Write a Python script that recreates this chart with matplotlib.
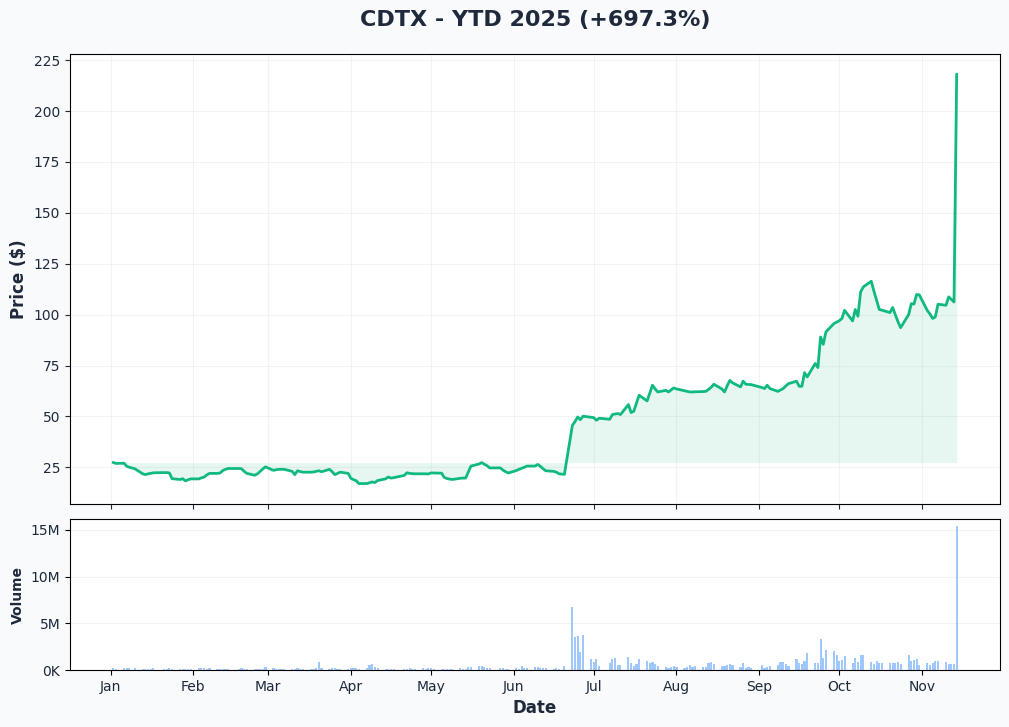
"""CDTX year-to-date price and volume chart."""
import matplotlib
matplotlib.use("Agg")
import matplotlib.pyplot as plt
import matplotlib.dates as mdates
from matplotlib.ticker import MultipleLocator, FuncFormatter
import pandas as pd

TICKER = "CDTX"
HOLIDAYS = ["2025-01-09", "2025-01-20", "2025-02-17", "2025-04-18", "2025-05-26",
            "2025-06-19", "2025-07-04", "2025-09-01"]

# closing prices, one per trading day (Jan 2 .. Nov 14)
PRICE = [
    # Jan
    27.34, 26.9, 27.0, 25.5, 25.0, 24.3, 21.8, 21.4, 21.8, 22.0, 22.3, 22.4, 22.4, 22.2,
    19.4, 19.0, 19.4, 18.3, 18.9, 19.3,
    # Feb
    19.3, 19.8, 20.2, 21.2, 22.0, 22.0, 22.2, 23.4, 24.0, 24.4, 24.4, 24.3, 23.0, 22.0,
    21.1, 21.8, 23.0, 24.2, 25.2,
    # Mar
    23.5, 23.8, 24.0, 24.0, 24.0, 23.0, 21.4, 23.3, 22.9, 22.6, 22.6, 22.7, 23.0, 23.3,
    22.8, 24.0, 22.8, 21.4, 22.0, 22.6, 22.0,
    # Apr
    19.6, 18.9, 18.4, 17.0, 17.0, 17.4, 17.8, 17.5, 18.5, 19.3, 20.2, 19.7, 19.9, 21.0,
    22.3, 22.0, 21.9, 21.8, 21.8, 21.8, 21.7,
    # May
    22.2, 22.2, 22.1, 20.0, 19.5, 19.2, 19.0, 19.6, 19.7, 19.7, 22.6, 25.6, 26.6, 27.3,
    26.5, 25.8, 24.7, 24.7, 23.6, 22.8, 22.2,
    # Jun
    23.4, 24.0, 24.5, 25.0, 25.6, 25.6, 26.4, 25.5, 24.3, 23.3, 23.0, 22.6, 21.8, 21.5,
    45.6, 47.5, 49.7, 48.4, 50.1, 49.6,
    # Jul
    49.4, 48.1, 49.1, 48.6, 50.9, 51.2, 51.4, 50.9, 55.8, 51.9, 52.5, 56.5, 60.4, 57.6,
    61.5, 65.3, 63.5, 62.0, 62.8, 62.0, 63.0, 64.0,
    # Aug
    63.5, 62.6, 62.3, 62.0, 62.0, 62.1, 62.2, 62.3, 63.2, 64.3, 65.8, 63.5, 62.0, 65.0,
    67.7, 66.5, 64.5, 67.3, 65.8, 65.7, 65.6,
    # Sep
    64.2, 63.7, 65.3, 63.7, 62.3, 63.0, 63.7, 65.0, 66.1, 67.3, 64.8, 64.8, 71.5, 69.4,
    76.0, 74.0, 89.0, 85.4, 91.5, 95.6, 96.3,
    # Oct
    97.0, 98.1, 102.1, 96.9, 102.5, 99.2, 111.1, 113.6, 116.4, 111.5, 107.0, 102.5, 102.2,
    101.0, 103.5, 100.0, 96.5, 93.6, 100.0, 105.4, 105.2, 109.9, 109.7,
    # Nov
    102.0, 100.3, 98.1, 98.9, 105.1, 104.6, 108.7, 107.5, 106.2, 217.98,
]

# daily volume, millions of shares
VOLUME_M = [
    # Jan
    0.20, 0.10, 0.20, 0.20, 0.20, 0.20, 0.13, 0.13, 0.13, 0.13, 0.22, 0.13, 0.13, 0.25,
    0.13, 0.13, 0.13, 0.13, 0.13, 0.13,
    # Feb
    0.22, 0.22, 0.22, 0.13, 0.22, 0.13, 0.13, 0.13, 0.13, 0.13, 0.10, 0.22, 0.13, 0.13,
    0.13, 0.13, 0.13, 0.13, 0.32,
    # Mar
    0.20, 0.13, 0.13, 0.13, 0.13, 0.13, 0.13, 0.25, 0.13, 0.13, 0.13, 0.13, 0.25, 0.86,
    0.20, 0.10, 0.25, 0.25, 0.13, 0.10, 0.10,
    # Apr
    0.25, 0.25, 0.25, 0.10, 0.25, 0.54, 0.65, 0.36, 0.22, 0.10, 0.13, 0.13, 0.13, 0.10,
    0.10, 0.22, 0.13, 0.13, 0.22, 0.13, 0.22,
    # May
    0.22, 0.13, 0.13, 0.13, 0.13, 0.13, 0.13, 0.22, 0.13, 0.13, 0.36, 0.36, 0.43, 0.43,
    0.36, 0.25, 0.25, 0.25, 0.25, 0.13, 0.10,
    # Jun
    0.22, 0.13, 0.43, 0.25, 0.25, 0.36, 0.36, 0.25, 0.25, 0.25, 0.10, 0.22, 0.10, 0.47,
    6.76, 3.53, 3.67, 1.94, 3.78, 1.19,
    # Jul
    0.86, 1.19, 0.43, 0.72, 1.19, 1.30, 0.54, 0.54, 1.40, 0.76, 0.43, 0.65, 1.19, 0.97,
    0.76, 0.86, 0.65, 0.43, 0.32, 0.22, 0.32, 0.43,
    # Aug
    0.32, 0.22, 0.32, 0.54, 0.32, 0.43, 0.32, 0.32, 0.76, 0.86, 0.65, 0.43, 0.43, 0.54,
    0.65, 0.54, 0.32, 0.76, 0.22, 0.32, 0.22,
    # Sep
    0.54, 0.22, 0.32, 0.43, 0.54, 0.86, 0.86, 0.65, 0.43, 1.19, 0.76, 0.65, 0.97, 1.83,
    0.76, 0.76, 3.35, 1.30, 2.16, 2.05, 1.62,
    # Oct
    0.97, 1.08, 1.51, 0.76, 1.30, 0.86, 1.62, 1.62, 0.86, 0.65, 0.97, 0.76, 0.76, 0.76,
    0.76, 0.76, 0.86, 0.65, 1.62, 0.97, 1.08, 1.19, 0.54,
    # Nov
    0.76, 0.54, 0.76, 0.97, 0.97, 0.86, 0.65, 0.65, 0.65, 15.4,
]

GREEN = "#10b981"
BLUE = "#60a5fa"
INK = "#1e293b"

days = pd.bdate_range("2025-01-02", "2025-11-14")
days = days[~days.isin(pd.to_datetime(HOLIDAYS))]
vol = [v * 1e6 for v in VOLUME_M]
ytd = (PRICE[-1] / PRICE[0] - 1) * 100

fig = plt.figure(figsize=(10.09, 7.27), dpi=100, facecolor="#f8fafc")
ax = fig.add_axes([0.0694, 0.3067, 0.9217, 0.619])
axv = fig.add_axes([0.0694, 0.0784, 0.9217, 0.2077], sharex=ax)

ax.plot(days, PRICE, color=GREEN, lw=2)
ax.fill_between(days, PRICE, PRICE[0], color=GREEN, alpha=0.1, lw=0)
ax.yaxis.set_major_locator(MultipleLocator(25))
ax.set_ylabel("Price ($)", fontsize=12, fontweight="bold", color=INK)
ax.grid(alpha=0.15)
ax.tick_params(labelbottom=False, colors=INK, labelcolor=INK)

axv.bar(days, vol, width=0.8, color=BLUE, alpha=0.6)
axv.yaxis.set_major_locator(MultipleLocator(5e6))
axv.yaxis.set_major_formatter(FuncFormatter(
    lambda x, _: f"{x / 1e6:.0f}M" if x >= 1e6 else f"{x / 1e3:.0f}K"))
axv.set_ylabel("Volume", fontsize=10, fontweight="bold", color=INK)
axv.set_xlabel("Date", fontsize=12, fontweight="bold", color=INK)
axv.grid(axis="y", alpha=0.15)
axv.xaxis.set_major_locator(mdates.MonthLocator())
axv.xaxis.set_major_formatter(mdates.DateFormatter("%b"))
axv.tick_params(labelcolor=INK)

fig.suptitle(f"{TICKER} - YTD 2025 ({ytd:+.1f}%)", fontsize=16, fontweight="bold",
             color=INK, x=0.530, y=0.986)
fig.savefig("out.png", dpi=100, facecolor=fig.get_facecolor())
